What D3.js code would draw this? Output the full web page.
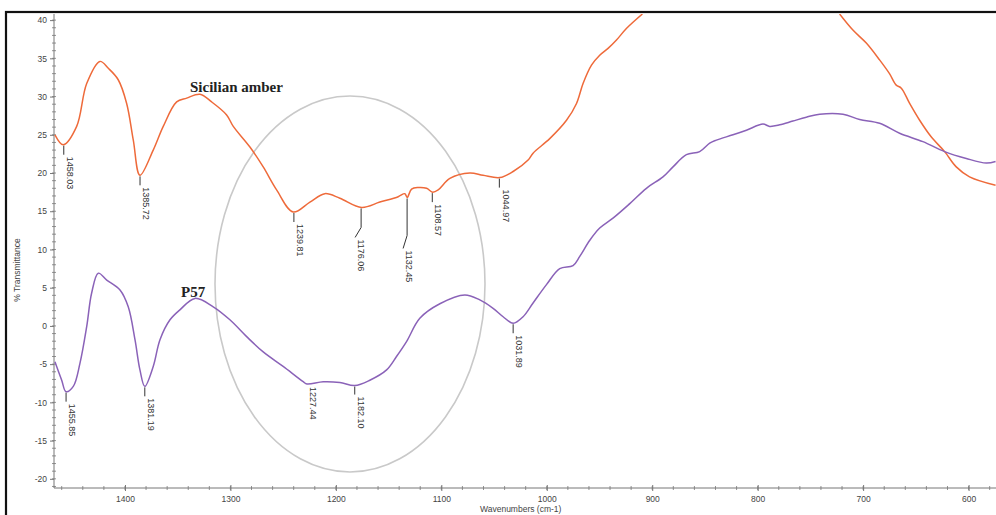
<!DOCTYPE html>
<html>
<head>
<meta charset="utf-8">
<script src="https://cdn.jsdelivr.net/npm/d3@7/dist/d3.min.js"></script>
<style>
  html, body { margin: 0; padding: 0; background: #fff; }
  svg { display: block; }
</style>
</head>
<body>
<svg id="chart" width="996" height="515"></svg>
<script>
// ---------- DATA ----------
const amberWn = [1466.4, 1458.5, 1445.8, 1436.3, 1423.7, 1415.8, 1406.4, 1398.4, 1392.1, 1385.8,
  1373.2, 1363.7, 1351.0, 1341.5, 1328.9, 1317.8, 1303.6, 1297.3, 1281.5, 1268.9, 1256.2,
  1240.5, 1224.6, 1210.4, 1196.2, 1175.6, 1158.3, 1140.9, 1134.6, 1132.4, 1128.2, 1122.0,
  1114.0, 1108.3, 1103.0, 1091.9, 1073.0, 1060.4, 1044.5, 1031.9, 1017.7, 1013.0, 997.2,
  981.3, 971.8, 965.6, 957.6, 949.8, 941.9, 933.9, 924.5, 909.3, 816.0, 722.3, 709.7, 697.0,
  684.4, 675.0, 668.6, 663.8, 655.9, 646.4, 635.3, 622.7, 611.7, 599.1, 574.4];
const amberT = [25.0, 23.7, 26.1, 31.7, 34.6, 33.7, 32.2, 29.1, 24.3, 19.7,
  23.0, 26.1, 29.3, 29.8, 30.3, 29.3, 27.6, 26.1, 23.4, 20.8, 17.8,
  14.9, 16.2, 17.3, 16.7, 15.5, 16.2, 16.9, 17.3, 16.8, 17.9, 18.1,
  18.0, 17.5, 17.8, 19.3, 20.0, 19.7, 19.4, 20.2, 21.7, 22.6, 24.5,
  26.9, 29.1, 31.7, 34.1, 35.4, 36.3, 37.4, 38.9, 40.8, null, 40.8, 38.7, 37.0,
  34.8, 33.0, 31.5, 31.1, 29.1, 26.9, 24.7, 22.8, 20.8, 19.5, 18.4];

const p57Wn = [1466.4, 1460.0, 1455.9, 1449.0, 1442.7, 1436.3, 1431.6, 1425.3, 1417.3, 1404.7,
  1396.9, 1390.5, 1385.8, 1381.2, 1373.2, 1366.8, 1357.3, 1347.9, 1333.6, 1316.3, 1300.5,
  1284.6, 1268.9, 1250.0, 1231.0, 1227.4, 1212.0, 1196.2, 1182.1, 1167.8, 1151.9, 1142.5,
  1133.0, 1120.4, 1101.4, 1077.7, 1063.5, 1050.9, 1041.4, 1031.9, 1022.5, 1013.0, 1000.3,
  987.7, 975.1, 968.7, 959.2, 949.8, 937.2, 921.3, 905.5, 889.8, 880.3, 867.6, 855.0, 845.5,
  839.2, 823.4, 810.7, 795.0, 788.6, 779.1, 766.6, 753.9, 741.2, 719.1, 703.3, 684.4, 665.4,
  643.3, 622.7, 602.2, 583.2, 574.4];
const p57T = [-4.7, -7.1, -8.6, -7.9, -4.9, -0.1, 4.3, 6.9, 6.0, 4.7,
  2.5, -1.8, -5.75, -7.9, -5.3, -1.8, 0.8, 2.1, 3.6, 2.5, 0.8,
  -1.4, -3.4, -5.3, -7.3, -7.6, -7.3, -7.4, -7.8, -7.1, -5.75, -4.0,
  -2.05, 1.0, 2.9, 4.05, 3.4, 2.3, 1.2, 0.35, 1.2, 3.0, 5.4,
  7.5, 7.9, 9.1, 11.2, 12.8, 14.1, 16.0, 18.0, 19.5, 20.8, 22.4, 22.8, 23.9,
  24.3, 25.0, 25.6, 26.4, 26.1, 26.3, 26.8, 27.3, 27.7, 27.7, 27.0, 26.5, 25.2,
  24.1, 22.8, 21.9, 21.3, 21.5];

const amberPeakWn = [1458.03, 1385.72, 1239.81, 1176.06, 1132.45, 1108.57, 1044.97];
const amberPeakT  = [23.7, 19.7, 14.9, 15.5, 16.8, 17.5, 19.4];
const p57PeakWn = [1455.85, 1381.19, 1227.44, 1182.10, 1031.89];
const p57PeakT  = [-8.6, -7.9, -7.6, -7.8, 0.35];

const xTicks = [1400, 1300, 1200, 1100, 1000, 900, 800, 700, 600];
const yTicks = [-20, -15, -10, -5, 0, 5, 10, 15, 20, 25, 30, 35, 40];

const seriesNames = ["Sicilian amber", "P57"];
const xTitle = "Wavenumbers (cm-1)";
const yTitle = "% Transmittance";

// ---------- LAYOUT ----------
const L = 54, R = 996, T = 14, B = 488;
const svg = d3.select("#chart");
const x = d3.scaleLinear().domain([1467.3, 574]).range([L, R]);
const y = d3.scaleLinear().domain([-21.2, 40.8]).range([B, T]);

// frame
svg.append("rect").attr("x", 6).attr("y", 12).attr("width", 996).attr("height", 520)
  .attr("fill", "#fff").attr("stroke", "#111").attr("stroke-width", 2.2);

svg.append("defs").append("clipPath").attr("id", "clip")
  .append("rect").attr("x", L).attr("y", T).attr("width", R - L).attr("height", B - T);

const axisCol = "#777";
const labelCol = "#444";
const fmt = d => String(d);

// y axis
const yMinor = d3.range(-21, 41, 1);
const yAxisG = svg.append("g").attr("transform", `translate(${L},0)`);
yAxisG.call(d3.axisLeft(y).tickValues(yTicks).tickSize(4).tickPadding(3).tickFormat(fmt));
yAxisG.selectAll(".minor").data(yMinor).enter().append("line")
  .attr("x1", -2).attr("x2", 2).attr("y1", d => y(d)).attr("y2", d => y(d))
  .attr("stroke", axisCol).attr("stroke-width", 0.8);
yAxisG.select(".domain").attr("d", `M0,${T}V${B}`).attr("stroke", axisCol);
yAxisG.selectAll(".tick line").attr("stroke", axisCol);
yAxisG.selectAll(".tick text").attr("fill", labelCol).style("font", "8.5px 'Liberation Sans', Arial, sans-serif");

// x axis
const xMinor = d3.range(1460, 579, -20);
const xAxisG = svg.append("g").attr("transform", `translate(0,${B})`);
xAxisG.call(d3.axisBottom(x).tickValues(xTicks).tickSize(3).tickPadding(5).tickFormat(fmt));
xAxisG.selectAll(".minor").data(xMinor).enter().append("line")
  .attr("x1", d => x(d)).attr("x2", d => x(d)).attr("y1", -2).attr("y2", 2)
  .attr("stroke", axisCol).attr("stroke-width", 0.8);
xAxisG.select(".domain").attr("d", `M${L},0H${R}`).attr("stroke", axisCol);
xAxisG.selectAll(".tick line").attr("stroke", axisCol).attr("y1", -3);
xAxisG.selectAll(".tick text").attr("fill", labelCol).style("font", "8.5px 'Liberation Sans', Arial, sans-serif");

// axis titles
svg.append("text").attr("x", 480).attr("y", 512).attr("fill", labelCol)
  .style("font", "8.5px 'Liberation Sans', Arial, sans-serif").text(xTitle);
svg.append("text").attr("transform", "translate(20,270) rotate(-90)").attr("text-anchor", "middle")
  .attr("fill", labelCol).style("font", "8.5px 'Liberation Sans', Arial, sans-serif").text(yTitle);

// ellipse highlight
svg.append("ellipse").attr("cx", 350).attr("cy", 284).attr("rx", 135).attr("ry", 188)
  .attr("fill", "none").attr("stroke", "#c9c9c9").attr("stroke-width", 1.6);

// lines
const plot = svg.append("g").attr("clip-path", "url(#clip)");
const line = d3.line().defined(d => d[1] !== null).curve(d3.curveCatmullRom.alpha(0.5))
  .x(d => x(d[0])).y(d => y(d[1]));
plot.append("path").datum(amberWn.map((w, i) => [w, amberT[i]]))
  .attr("d", line).attr("fill", "none").attr("stroke", "#ee6a3a").attr("stroke-width", 1.5);
plot.append("path").datum(p57Wn.map((w, i) => [w, p57T[i]]))
  .attr("d", line).attr("fill", "none").attr("stroke", "#8a62b8").attr("stroke-width", 1.5);

// peak labels (leader shape: [vertical length, dx, dy of bend])
function leader(wn, t, shape) {
  const x0 = x(wn), y0 = y(t);
  const [len, dx, dy] = shape;
  const y1 = y0 + len, x2 = x0 + dx, y2 = y1 + dy;
  svg.append("path").attr("d", `M${x0},${y0 + 1}V${y1}L${x2},${y2}`)
    .attr("fill", "none").attr("stroke", "#333").attr("stroke-width", 1);
  svg.append("text").attr("transform", `translate(${x2 + 3.2},${y2 + 2}) rotate(90)`)
    .attr("fill", "#333").style("font", "9px 'Liberation Sans', Arial, sans-serif")
    .text(wn.toFixed(2));
}
const amberShapes = [[10, 0, 0], [10, 0, 0], [10, 0, 0], [20, -6, 10], [38, -4, 13], [10, 0, 0], [10, 0, 0]];
const p57Shapes = [[10, 0, 0], [10, 0, 0], [1, 0, 0], [9, 0, 0], [10, 0, 0]];
amberPeakWn.forEach((w, i) => leader(w, amberPeakT[i], amberShapes[i]));
p57PeakWn.forEach((w, i) => leader(w, p57PeakT[i], p57Shapes[i]));

// series labels
svg.append("text").attr("x", 190).attr("y", 92).attr("fill", "#222")
  .style("font", "bold 15px 'Liberation Serif', 'Times New Roman', serif").text(seriesNames[0]);
svg.append("text").attr("x", 181).attr("y", 297).attr("fill", "#222")
  .style("font", "bold 15px 'Liberation Serif', 'Times New Roman', serif").text(seriesNames[1]);
</script>
</body>
</html>
